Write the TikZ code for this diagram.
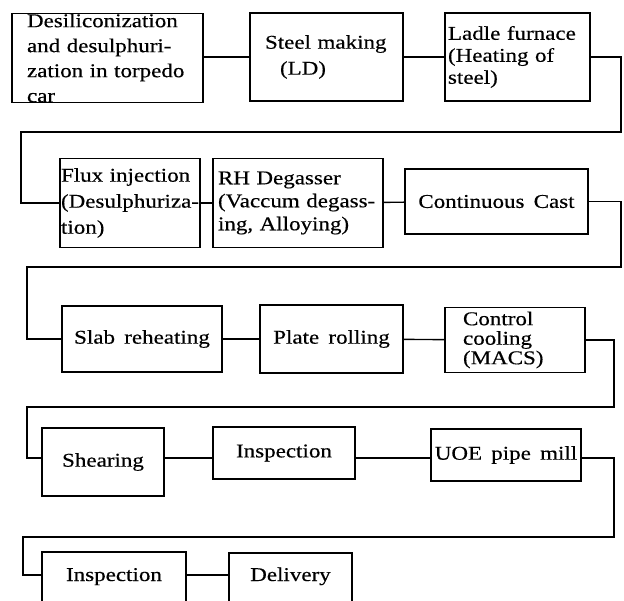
\documentclass[tikz,border=0pt]{standalone}
\usepackage{fontspec}
\setmainfont{Liberation Serif}[FakeStretch=1.18,WordSpace=1.6,FakeBold=0.4]

\tikzset{
  stage/.style={draw, line width=1.4pt, inner sep=0pt, align=left,
    font=\fontsize{19.5pt}{25pt}\selectfont},
  lines/.style={font=\fontsize{19.5pt}{#1}\selectfont},
  link/.style={line width=1.4pt},
}

\begin{document}
\begin{tikzpicture}[x=1pt, y=-1pt]
  \clip (0,0) rectangle (624,601);
  % linha 1
  \node[stage, minimum width=191pt, minimum height=89pt, text width=161pt]
    (desil) at (107.5,58)
    {Desiliconization\\\mbox{and~desulphuri-}\\zation~in~torpedo\\car};
  \node[stage, lines=26pt, minimum width=153pt, minimum height=88pt, text width=123pt]
    (steel) at (326.5,57) {Steel~making\\\hspace*{15pt}(LD)};
  \node[stage, lines=22pt, minimum width=145pt, minimum height=88pt, text width=139pt]
    (ladle) at (517.5,57) {Ladle~furnace\\(Heating~of\\steel)};
  % linha 2
  \node[stage, lines=26pt, minimum width=140pt, minimum height=89pt, text width=138pt]
    (flux) at (130,203) {Flux~injection\\\mbox{(Desulphuriza-}\\tion)};
  \node[stage, lines=23pt, minimum width=170pt, minimum height=89pt, text width=160pt]
    (rh) at (298,203) {RH~Degasser\\\mbox{(Vaccum~degass-}\\ing,~Alloying)};
  \node[stage, align=center, minimum width=183pt, minimum height=65pt]
    (cast) at (496.5,201.5) {Continuous~Cast};
  % linha 3
  \node[stage, align=center, minimum width=160pt, minimum height=66pt]
    (slab) at (142,339) {Slab~reheating};
  \node[stage, align=center, minimum width=143pt, minimum height=68pt]
    (plate) at (331.5,339) {Plate~rolling};
  \node[stage, lines=19.5pt, minimum width=140pt, minimum height=65pt, text width=104pt]
    (cool) at (515,340) {Control\\cooling\\(MACS)};
  % linha 4
  \node[stage, align=center, minimum width=122pt, minimum height=68pt]
    (shear) at (103,462) {Shearing};
  \node[stage, align=center, minimum width=142pt, minimum height=52pt]
    (insp) at (284,453) {Inspection};
  \node[stage, align=center, minimum width=150pt, minimum height=52pt]
    (uoe) at (506,455) {UOE~pipe~mill};
  % linha 5 (cortada embaixo)
  \node[stage, align=center, minimum width=144pt, text height=29pt,
    text depth=40pt, anchor=base] (inspb) at (114,581) {Inspection};
  \node[stage, align=center, minimum width=123pt, text height=28pt,
    text depth=40pt, anchor=base] (deliv) at (290.5,581) {Delivery};

  % ligacoes
  \coordinate (r1) at (621,132);
  \coordinate (l1) at (21,132);
  \coordinate (r2) at (621,267);
  \coordinate (l2) at (27,267);
  \coordinate (r3) at (614,407);
  \coordinate (l3) at (27,407);
  \coordinate (row4) at (0,458);
  \coordinate (r4) at (614,537);
  \coordinate (l4) at (23,537);
  \coordinate (row5) at (0,575);
  \draw[link] (desil.east |- steel) -- (steel);
  \draw[link] (steel) -- (ladle);
  \draw[link] (ladle) -| (r1) -- (l1) |- (flux);
  \draw[link] (flux) -- (rh);
  \draw[link] (rh) -- (cast);
  \draw[link] (cast) -| (r2) -- (l2) |- (slab);
  \draw[link] (slab) -- (plate);
  \draw[link] (plate) -- (cool);
  \draw[link] (cool) -| (r3) -- (l3) |- (shear.west |- row4);
  \draw[link] (shear.east |- row4) -- (insp.west |- row4);
  \draw[link] (insp.east |- row4) -- (uoe.west |- row4);
  \draw[link] (uoe.east |- row4) -| (r4) -- (l4) |- (inspb.west |- row5);
  \draw[link] (inspb.east |- row5) -- (deliv.west |- row5);
\end{tikzpicture}
\end{document}
